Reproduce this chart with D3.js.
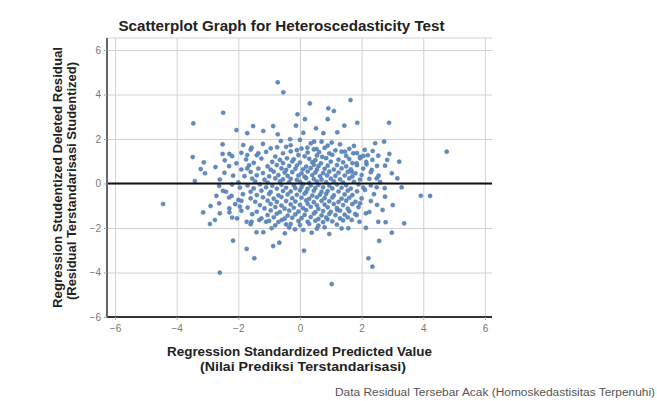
<!DOCTYPE html>
<html>
<head>
<meta charset="utf-8">
<script src="https://cdn.jsdelivr.net/npm/d3@7"></script>
<style>
  body { margin: 0; background: #fff; }
  svg { display: block; font-family: "Liberation Sans", Arial, sans-serif; }
</style>
</head>
<body>
<svg></svg>
<script>
// tick values for both axes
let xTicks = [-6, -4, -2, 0, 2, 4, 6]
let yTicks = [-6, -4, -2, 0, 2, 4, 6]

// points away from the main cloud [predicted, residual]
let outerPoints = [
  [-2.49, 3.18], [-3.46, 2.70], [-2.06, 2.40], [-1.71, 2.26], [-2.51, 1.76], [-1.84, 1.73],
  [-2.51, 1.33], [-2.29, 1.33], [-3.48, 1.19], [-2.44, 1.04], [-3.12, 0.95], [-2.06, 0.91],
  [-2.74, 0.74], [-3.22, 0.65], [-3.08, 0.46], [-2.17, 0.35], [-1.71, 1.28], [-1.71, 0.68],
  [-3.41, 0.11],
  [-0.72, 4.55], [-0.54, 4.10], [0.32, 3.60], [0.92, 3.38], [1.10, 3.26], [1.64, 3.75],
  [-0.08, 3.11], [0.16, 2.89], [0.90, 2.89], [-1.52, 2.58], [-0.87, 2.58], [-0.13, 2.60],
  [0.52, 2.48], [1.44, 2.60], [-1.19, 2.36], [0.11, 2.28], [0.76, 2.26], [1.21, 2.30],
  [-0.72, 2.21], [-0.32, 1.99], [0.00, 1.96], [0.46, 1.88], [0.70, 1.88], [1.03, 1.84],
  [-0.62, 1.91], [-0.74, 1.63], [-0.45, 1.65], [0.24, 1.61], [0.54, 1.55], [-1.57, 1.61],
  [-1.35, 1.36], [1.46, 1.43],
  [1.86, 2.73], [2.89, 2.73], [4.76, 1.43], [2.44, 1.81], [2.73, 1.88], [2.36, 1.46],
  [2.54, 1.25], [2.90, 1.33], [1.73, 1.36], [1.95, 1.20], [2.06, 1.24], [2.83, 1.06],
  [3.22, 0.98], [2.16, 0.86], [2.76, 0.80], [1.84, 0.91], [2.33, 0.61], [2.98, 0.46],
  [1.68, 0.53], [2.00, 0.38], [3.16, 0.23], [2.49, 0.23],
  [-4.44, -0.92], [-2.62, -0.11], [-2.71, -0.56], [-2.40, -0.37], [-2.22, -0.56], [-2.90, -1.01],
  [-2.62, -0.89], [-3.14, -1.30], [-2.60, -1.34], [-2.29, -1.12], [-2.29, -1.30], [-2.76, -1.64],
  [-2.92, -1.82], [-2.04, -1.57], [-1.95, -1.04], [-2.00, -0.74], [-2.17, -2.57], [-1.73, -2.94],
  [-2.60, -4.01], [-1.73, -1.72],
  [-1.48, -3.36], [-0.87, -2.81], [-0.67, -2.66], [0.13, -3.02], [1.03, -4.52], [0.95, -2.27],
  [0.38, -2.21], [-0.49, -2.24], [-1.41, -2.19], [-1.19, -2.19], [-0.16, -2.06], [0.11, -2.09],
  [-0.92, -2.01], [1.57, -2.01], [-1.32, -1.64], [-1.10, -1.72], [-0.59, -1.64], [-0.30, -1.82],
  [0.89, -1.61], [1.21, -1.19], [-1.57, -1.72],
  [3.92, -0.55], [4.22, -0.56], [3.30, -0.17], [2.49, -0.17], [2.11, -0.29], [2.76, -0.59],
  [3.01, -0.97], [2.68, -1.19], [2.14, -1.34], [1.95, -0.89], [1.84, -1.42], [1.93, -1.72],
  [2.54, -1.72], [2.78, -1.74], [3.38, -1.79], [2.14, -1.99], [2.98, -2.21], [2.57, -2.58],
  [2.22, -3.36], [2.35, -3.74], [1.68, -1.64], [1.79, -1.37]
]

// dense middle of the cloud (estimated)
let corePoints = [
  [-1.2, 1.78], [-0.3, 1.72], [0.35, 1.8], [0.9, 1.7], [1.3, 1.76], [1.75, 1.69],
  [-1.6, 1.52], [-0.95, 1.58], [-0.1, 1.5], [0.05, 1.57], [0.45, 1.53], [0.8, 1.6], [1.15, 1.49], [1.6, 1.56], [2.1, 1.51],
  [-1.9, 1.38], [-1.1, 1.42], [-0.55, 1.36], [-0.3, 1.44], [0.25, 1.39], [0.62, 1.41], [0.95, 1.35], [1.35, 1.43], [1.85, 1.37],
  [-2.2, 1.23], [-1.4, 1.27], [-0.8, 1.21], [-0.05, 1.28], [0.15, 1.22], [0.55, 1.26], [0.72, 1.2], [1.05, 1.29], [1.5, 1.24], [2.2, 1.27],
  [-1.75, 1.08], [-1.25, 1.12], [-0.65, 1.06], [-0.42, 1.13], [-0.2, 1.09], [0.3, 1.11], [0.5, 1.05], [0.85, 1.14], [1.25, 1.07], [1.6, 1.1], [1.95, 1.13], [2.35, 1.06],
  [-1.5, 0.93], [-0.9, 0.97], [-0.55, 0.92], [-0.25, 0.99], [0.0, 0.94], [0.4, 0.96], [0.68, 0.91], [1.0, 0.98], [1.4, 0.95], [1.7, 0.92], [2.15, 0.97],
  [-2.3, 0.78], [-1.65, 0.82], [-1.05, 0.77], [-0.75, 0.83], [-0.35, 0.79], [-0.1, 0.81], [0.2, 0.76], [0.45, 0.84], [0.6, 0.78], [0.9, 0.8], [1.2, 0.83], [1.5, 0.77], [1.85, 0.82], [2.5, 0.79],
  [-1.9, 0.63], [-1.35, 0.67], [-0.95, 0.62], [-0.6, 0.68], [-0.45, 0.61], [-0.15, 0.66], [0.1, 0.64], [0.35, 0.69], [0.55, 0.62], [0.8, 0.66], [1.1, 0.63], [1.35, 0.68], [1.65, 0.64], [2.05, 0.67],
  [-2.45, 0.48], [-1.6, 0.52], [-1.2, 0.47], [-0.85, 0.53], [-0.5, 0.49], [-0.25, 0.51], [0.05, 0.46], [0.25, 0.54], [0.5, 0.5], [0.75, 0.47], [0.95, 0.53], [1.25, 0.49], [1.55, 0.52], [1.8, 0.46], [2.3, 0.51],
  [-1.8, 0.33], [-1.4, 0.37], [-1.0, 0.32], [-0.7, 0.38], [-0.4, 0.34], [-0.05, 0.36], [0.15, 0.31], [0.4, 0.38], [0.65, 0.33], [0.88, 0.37], [1.15, 0.34], [1.45, 0.36], [1.7, 0.32], [2.55, 0.35],
  [-2.6, 0.18], [-1.55, 0.22], [-1.15, 0.17], [-0.8, 0.23], [-0.55, 0.19], [-0.3, 0.21], [-0.1, 0.16], [0.2, 0.24], [0.45, 0.2], [0.7, 0.17], [1.0, 0.22], [1.3, 0.19], [1.6, 0.23], [1.95, 0.18], [2.25, 0.21],
  [-2.0, 0.05], [-1.45, 0.09], [-1.05, 0.04], [-0.65, 0.1], [-0.35, 0.06], [0.0, 0.08], [0.3, 0.03], [0.55, 0.09], [0.85, 0.06], [1.1, 0.1], [1.4, 0.04], [1.75, 0.08], [2.6, 0.06],
  [-2.2, -0.05], [-1.7, -0.09], [-1.3, -0.04], [-0.9, -0.1], [-0.6, -0.06], [-0.2, -0.08], [0.1, -0.03], [0.35, -0.09], [0.6, -0.06], [0.95, -0.1], [1.2, -0.05], [1.5, -0.08], [1.9, -0.04], [2.3, -0.09],
  [-1.95, -0.18], [-1.5, -0.22], [-1.1, -0.17], [-0.75, -0.23], [-0.45, -0.19], [-0.15, -0.21], [0.05, -0.16], [0.25, -0.24], [0.5, -0.2], [0.75, -0.17], [1.05, -0.22], [1.35, -0.19], [1.65, -0.23], [2.05, -0.18], [2.75, -0.21],
  [-2.5, -0.33], [-1.6, -0.37], [-1.25, -0.32], [-0.95, -0.38], [-0.55, -0.34], [-0.3, -0.36], [0.0, -0.31], [0.2, -0.38], [0.45, -0.33], [0.7, -0.37], [0.9, -0.34], [1.25, -0.36], [1.55, -0.32], [1.85, -0.35],
  [-1.85, -0.48], [-1.4, -0.52], [-1.0, -0.47], [-0.7, -0.53], [-0.4, -0.49], [-0.1, -0.51], [0.15, -0.46], [0.4, -0.54], [0.65, -0.5], [0.85, -0.47], [1.1, -0.53], [1.45, -0.49], [1.7, -0.52], [2.4, -0.48],
  [-2.3, -0.63], [-1.6, -0.67], [-1.2, -0.62], [-0.85, -0.68], [-0.6, -0.61], [-0.25, -0.66], [0.05, -0.64], [0.3, -0.69], [0.55, -0.62], [0.8, -0.66], [1.05, -0.63], [1.35, -0.68], [1.6, -0.64], [2.0, -0.67],
  [-1.9, -0.78], [-1.45, -0.82], [-1.05, -0.77], [-0.75, -0.83], [-0.45, -0.79], [-0.15, -0.81], [0.2, -0.76], [0.45, -0.84], [0.7, -0.78], [0.95, -0.8], [1.25, -0.83], [1.5, -0.77], [1.8, -0.82], [2.3, -0.79],
  [-2.1, -0.93], [-1.3, -0.97], [-0.95, -0.92], [-0.6, -0.99], [-0.3, -0.94], [0.0, -0.96], [0.25, -0.91], [0.55, -0.98], [0.8, -0.95], [1.1, -0.92], [1.4, -0.97], [1.7, -0.93], [2.5, -0.96],
  [-1.7, -1.08], [-1.15, -1.12], [-0.8, -1.06], [-0.5, -1.13], [-0.2, -1.09], [0.1, -1.11], [0.35, -1.05], [0.6, -1.14], [0.9, -1.07], [1.2, -1.1], [1.55, -1.13], [1.9, -1.06],
  [-1.9, -1.23], [-1.4, -1.27], [-0.95, -1.21], [-0.65, -1.28], [-0.35, -1.22], [-0.05, -1.26], [0.2, -1.2], [0.5, -1.29], [0.75, -1.24], [1.0, -1.27], [1.3, -1.22], [1.6, -1.25], [2.25, -1.28],
  [-1.55, -1.38], [-1.05, -1.42], [-0.75, -1.36], [-0.4, -1.44], [-0.15, -1.39], [0.15, -1.41], [0.45, -1.35], [0.7, -1.43], [0.95, -1.37], [1.15, -1.42], [1.45, -1.4],
  [-2.2, -1.53], [-1.25, -1.57], [-0.85, -1.52], [-0.5, -1.58], [-0.25, -1.54], [0.05, -1.56], [0.35, -1.51], [0.6, -1.59], [0.85, -1.53], [1.3, -1.57], [1.55, -1.52],
  [-1.0, -1.68], [-0.7, -1.73], [-0.05, -1.69], [0.25, -1.72], [0.5, -1.67], [0.75, -1.74], [1.05, -1.7], [1.4, -1.66],
  [-1.6, -1.83], [-0.8, -1.88], [-0.45, -1.84], [0.0, -1.87], [0.3, -1.82], [0.6, -1.89], [1.2, -1.85],
  [-0.35, -1.98], [0.55, -2.03], [0.8, -1.97], [1.35, -2.02]
]

let titleText = 'Scatterplot Graph for Heteroscedasticity Test'
let yLabel = ['Regression Studentized Deleted Residual', '(Residual Terstandarisasi Studentized)']
let xLabel = ['Regression Standardized Predicted Value', '(Nilai Prediksi Terstandarisasi)']
let captionText = 'Data Residual Tersebar Acak (Homoskedastisitas Terpenuhi)'

// canvas and plot box
let width = 657
let height = 401
let plotLeft = 107, plotRight = 492, plotTop = 38, plotBottom = 317

let svg = d3.select('svg').attr('width', width).attr('height', height)

let xScale = d3.scaleLinear().domain([-6.26, 6.23]).range([plotLeft, plotRight])
let yScale = d3.scaleLinear().domain([-6, 6.54]).range([plotBottom, plotTop])

// grid lines
svg.append('g')
   .attr('transform', 'translate(0,' + plotBottom + ')')
   .call(d3.axisBottom(xScale).tickValues(xTicks).tickSize(-(plotBottom - plotTop)).tickFormat(''))
   .call(g => g.select('.domain').remove())
   .selectAll('line').attr('stroke', '#d2d2d2')

svg.append('g')
   .attr('transform', 'translate(' + plotLeft + ',0)')
   .call(d3.axisLeft(yScale).tickValues(yTicks).tickSize(-(plotRight - plotLeft)).tickFormat(''))
   .call(g => g.select('.domain').remove())
   .selectAll('line').attr('stroke', '#d2d2d2')

// top border of the plot
svg.append('line')
   .attr('x1', plotLeft).attr('x2', plotRight).attr('y1', plotTop).attr('y2', plotTop)
   .attr('stroke', '#d2d2d2')

// points
let allPoints = outerPoints.concat(corePoints)
svg.append('g')
   .selectAll('circle')
   .data(allPoints)
   .enter()
   .append('circle')
   .attr('cx', d => xScale(d[0]))
   .attr('cy', d => yScale(d[1]))
   .attr('r', 2.1)
   .attr('fill', '#5f8cc4')
   .attr('stroke', '#4d6f99')
   .attr('stroke-width', 0.4)

// reference line at zero
svg.append('line')
   .attr('x1', plotLeft).attr('x2', plotRight)
   .attr('y1', yScale(0)).attr('y2', yScale(0))
   .attr('stroke', '#111').attr('stroke-width', 2)

// axes with labels
let xAxis = svg.append('g')
   .attr('transform', 'translate(0,' + plotBottom + ')')
   .call(d3.axisBottom(xScale).tickValues(xTicks).tickSize(3).tickFormat(d3.format('d')))
xAxis.select('.domain').attr('stroke', '#333').attr('stroke-width', 2).attr('d', 'M' + plotLeft + ',0H' + plotRight)
xAxis.selectAll('line').attr('stroke', '#aaa')
xAxis.selectAll('text').attr('fill', '#777').attr('font-size', 10).attr('dy', '0.9em')

let yAxis = svg.append('g')
   .attr('transform', 'translate(' + plotLeft + ',0)')
   .call(d3.axisLeft(yScale).tickValues(yTicks).tickSize(3).tickFormat(d3.format('d')))
yAxis.select('.domain').attr('stroke', '#666').attr('stroke-width', 2).attr('d', 'M0,' + plotTop + 'V' + plotBottom)
yAxis.selectAll('line').attr('stroke', '#aaa')
yAxis.selectAll('text').attr('fill', '#777').attr('font-size', 10)

// title
svg.append('text')
   .attr('x', 281.5).attr('y', 31)
   .attr('text-anchor', 'middle')
   .attr('font-size', 14).attr('font-weight', 'bold').attr('fill', '#222')
   .attr('textLength', 326).attr('lengthAdjust', 'spacingAndGlyphs')
   .text(titleText)

// y label, two lines
svg.append('text')
   .attr('transform', 'translate(62,177.5) rotate(-90)')
   .attr('text-anchor', 'middle')
   .attr('font-size', 12).attr('font-weight', 'bold').attr('fill', '#222')
   .attr('textLength', 261).attr('lengthAdjust', 'spacingAndGlyphs')
   .text(yLabel[0])
svg.append('text')
   .attr('transform', 'translate(76,181) rotate(-90)')
   .attr('text-anchor', 'middle')
   .attr('font-size', 12).attr('font-weight', 'bold').attr('fill', '#222')
   .attr('textLength', 238).attr('lengthAdjust', 'spacingAndGlyphs')
   .text(yLabel[1])

// x label, two lines
svg.append('text')
   .attr('x', 299.5).attr('y', 356)
   .attr('text-anchor', 'middle')
   .attr('font-size', 12).attr('font-weight', 'bold').attr('fill', '#222')
   .attr('textLength', 265).attr('lengthAdjust', 'spacingAndGlyphs')
   .text(xLabel[0])
svg.append('text')
   .attr('x', 303).attr('y', 371)
   .attr('text-anchor', 'middle')
   .attr('font-size', 12).attr('font-weight', 'bold').attr('fill', '#222')
   .attr('textLength', 206).attr('lengthAdjust', 'spacingAndGlyphs')
   .text(xLabel[1])

// caption at the bottom right
svg.append('text')
   .attr('x', 655).attr('y', 396)
   .attr('text-anchor', 'end')
   .attr('font-size', 10).attr('fill', '#555')
   .attr('textLength', 320).attr('lengthAdjust', 'spacingAndGlyphs')
   .text(captionText)
</script>
</body>
</html>
